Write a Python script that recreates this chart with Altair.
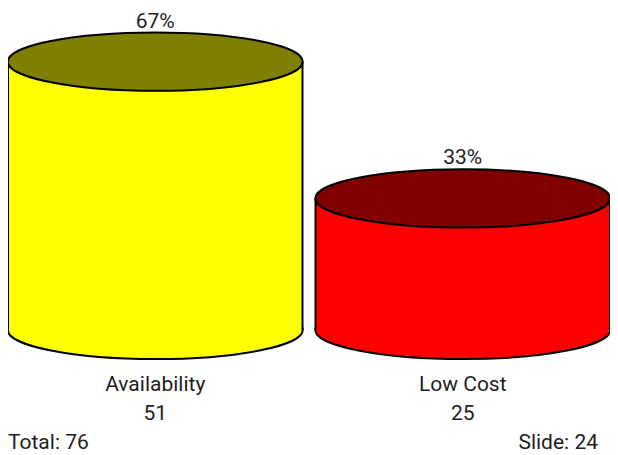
import altair as alt
import pandas as pd

categories = ["Availability", "Low Cost"]
counts = [51, 25]
percents = ["67%", "33%"]
body_colors = ["#FFFF00", "#FF0000"]
top_colors = ["#808000", "#800000"]
total_label = "Total: 76"
slide_label = "Slide: 24"

df = pd.DataFrame({
    "cat": categories,
    "count": counts,
    "pct": percents,
    "base": [0] * len(categories),
})

W, H = 602, 447
BW = 295
ELLIPSE = ("M -1 0 C -1 -0.109 -0.552 -0.198 0 -0.198 "
           "C 0.552 -0.198 1 -0.109 1 0 "
           "C 1 0.109 0.552 0.198 0 0.198 "
           "C -0.552 0.198 -1 0.109 -1 0 Z")
FONT = "Roboto"
FS = 21
TXT = "#1e1e1e"

xs = alt.Scale(type="band", domain=categories, paddingInner=0.0423, paddingOuter=0)
ys = alt.Scale(domain=[-23.78, 61.2], nice=False, zero=False)
X = alt.X("cat:N", scale=xs, axis=None)
body_fill = alt.Fill("cat:N", scale=alt.Scale(domain=categories, range=body_colors), legend=None)
top_fill = alt.Fill("cat:N", scale=alt.Scale(domain=categories, range=top_colors), legend=None)

base = alt.Chart(df)

bottom = base.mark_point(shape=ELLIPSE, filled=True, opacity=1, size=BW * BW,
                         stroke="black", strokeWidth=2).encode(
    x=X, y=alt.Y("base:Q", scale=ys, axis=None), fill=body_fill)

body = base.mark_bar(opacity=1, strokeWidth=0).encode(
    x=X, y=alt.Y("base:Q", scale=ys, axis=None), y2="count:Q", fill=body_fill)

left = base.mark_rule(color="black", strokeWidth=2).encode(
    x=alt.X("cat:N", scale=xs, axis=None, bandPosition=0),
    y=alt.Y("base:Q", scale=ys, axis=None), y2="count:Q")
right = base.mark_rule(color="black", strokeWidth=2).encode(
    x=alt.X("cat:N", scale=xs, axis=None, bandPosition=1),
    y=alt.Y("base:Q", scale=ys, axis=None), y2="count:Q")

lower = alt.layer(bottom, body, left, right)

top = base.mark_point(shape=ELLIPSE, filled=True, opacity=1, size=BW * BW,
                      stroke="black", strokeWidth=2).encode(
    x=X, y=alt.Y("count:Q", scale=ys, axis=None), fill=top_fill)

pct_text = base.mark_text(font=FONT, fontSize=FS, color=TXT, baseline="alphabetic", dy=-34).encode(
    x=X, y=alt.Y("count:Q", scale=ys, axis=None), text="pct:N")

cat_text = base.mark_text(font=FONT, fontSize=FS, color=TXT, baseline="alphabetic", dy=61).encode(
    x=X, y=alt.Y("base:Q", scale=ys, axis=None), text="cat:N")

val_text = base.mark_text(font=FONT, fontSize=FS, color=TXT, baseline="alphabetic", dy=90).encode(
    x=X, y=alt.Y("base:Q", scale=ys, axis=None), text="count:Q")

total_text = alt.Chart(pd.DataFrame({"t": [total_label]})).mark_text(
    font=FONT, fontSize=FS, color=TXT, align="left", baseline="alphabetic").encode(
    x=alt.value(0), y=alt.value(441), text="t:N")

slide_text = alt.Chart(pd.DataFrame({"t": [slide_label]})).mark_text(
    font=FONT, fontSize=FS, color=TXT, align="right", baseline="alphabetic").encode(
    x=alt.value(590), y=alt.value(441), text="t:N")

chart = alt.layer(lower, top, pct_text, cat_text, val_text,
                  total_text, slide_text).resolve_scale(fill="independent").properties(
    width=W, height=H, padding=0,
    autosize=alt.AutoSizeParams(type="none"),
).configure_view(stroke=None)

chart.save("out.html", embed_options={"renderer": "svg", "actions": False})
